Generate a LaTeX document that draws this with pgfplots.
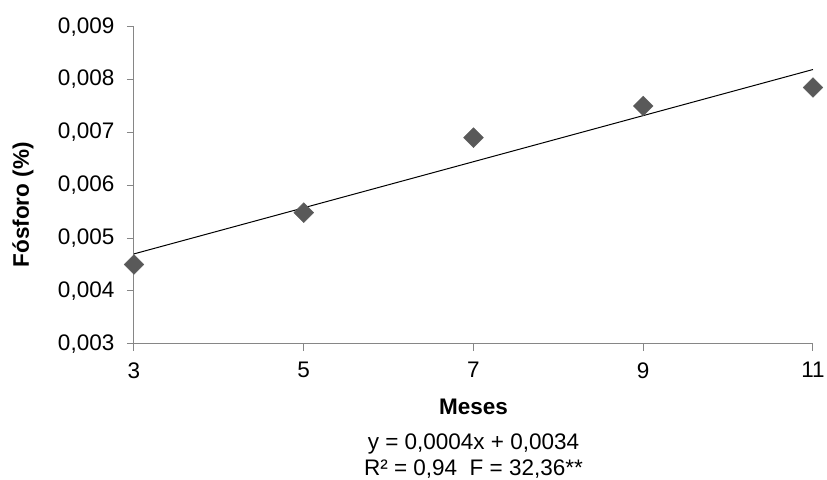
\documentclass[border=0pt]{standalone}
\usepackage{fontspec}
\setmainfont{Liberation Sans}
\usepackage{pgfplots}
\pgfplotsset{compat=1.18}
\definecolor{axisgray}{RGB}{134,134,134}
\definecolor{markgray}{RGB}{89,89,89}
\begin{document}
\fontsize{22.5pt}{27pt}\selectfont
\begin{tikzpicture}
\useasboundingbox (-134pt,-136pt) rectangle (693pt,343.7pt);
\begin{axis}[
  scale only axis,
  width=679pt, height=317pt,
  xmin=3, xmax=11, ymin=0.003, ymax=0.009,
  xtick={3,5,7,9,11},
  ytick={0.003,0.004,0.005,0.006,0.007,0.008,0.009},
  scaled y ticks=false,
  /pgf/number format/assume math mode=true,
  yticklabel style={xshift=-5pt, /pgf/number format/.cd, fixed, fixed zerofill, precision=3, use comma},
  xticklabel style={yshift=-4pt},
  axis lines*=left,
  axis line style={axisgray, line width=1pt},
  tick style={axisgray, line width=1pt},
  tick align=outside,
  major tick length=7pt,
  clip=false,
  xlabel={\textbf{Meses}},
  ylabel={\textbf{Fósforo (\%)}},
  xlabel style={at={(axis description cs:0.5,-0.1987)}, anchor=center},
  ylabel style={at={(axis description cs:-0.1635,0.438)}, anchor=center},
]
\addplot[only marks, mark=square*, mark size=7pt,
  mark options={rotate=45, fill=markgray, draw=markgray}]
  coordinates {(3,0.0045) (5,0.00548) (7,0.0069) (9,0.0075) (11,0.00785)};
\addplot[black, line width=1pt] coordinates {(3,0.0047) (11,0.00819)};
\node[anchor=center] at (axis description cs:0.5,-0.3155) {y = 0,0004x + 0,0034};
\node[anchor=center] at (axis description cs:0.5,-0.3943) {R² = 0,94\ \ F = 32,36**};
\end{axis}
\end{tikzpicture}
\end{document}
